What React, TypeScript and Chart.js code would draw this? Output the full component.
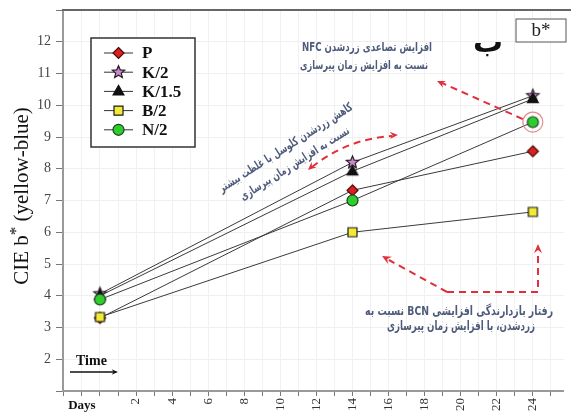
import React, { useEffect, useRef } from "react";
import { Chart, registerables } from "chart.js";

Chart.register(...registerables);

// ---- data ----
const seriesNames = ["P", "K/2", "K/1.5", "B/2", "N/2"];
const days = [0, 14, 24];
const pValues = [3.3, 7.32, 8.55];
const k2Values = [4.06, 8.2, 10.3];
const k15Values = [4.0, 7.92, 10.2];
const b2Values = [3.33, 6.0, 6.64];
const n2Values = [3.88, 7.0, 9.47];
const yTickValues = [2, 3, 4, 5, 6, 7, 8, 9, 10, 11, 12];
const xTickLabels = [2, 4, 6, 8, 10, 12, 14, 16, 18, 20, 22, 24];

const yTitleMain = "CIE b";
const yTitleSup = "*";
const yTitleRest = " (yellow-blue)";
const panelLetter = "ب";
const panelTag = "b*";
const noteTop = ["افزایش تصاعدی زردشدن NFC", "نسبت به افزایش زمان پیرسازی"];
const noteMid = ["کاهش زردشدن کلوسل با غلظت بیشتر", "نسبت به افزایش زمان پیرسازی"];
const noteBottom = ["رفتار بازدارندگی افزایشی BCN نسبت به", "زردشدن، با افزایش زمان پیرسازی"];

type MarkerStyle = { kind: string; fill: string; stroke: string; r: number };
const markerStyles: MarkerStyle[] = [
  { kind: "diamond", fill: "#dc1f1f", stroke: "#4a0a0a", r: 5.5 },
  { kind: "star", fill: "#c98ac9", stroke: "#2a1a2a", r: 6.5 },
  { kind: "triangle", fill: "#111111", stroke: "#111111", r: 6 },
  { kind: "square", fill: "#f2ea36", stroke: "#1a1a1a", r: 4.5 },
  { kind: "circle", fill: "#2fcc2f", stroke: "#1a401a", r: 5.5 },
];
const seriesValues = [pValues, k2Values, k15Values, b2Values, n2Values];
const drawOrder = [4, 2, 3, 0, 1];

function drawMarker(ctx: CanvasRenderingContext2D, m: MarkerStyle, x: number, y: number) {
  ctx.save();
  ctx.fillStyle = m.fill;
  ctx.strokeStyle = m.stroke;
  ctx.lineWidth = 1.2;
  ctx.beginPath();
  if (m.kind === "diamond") {
    ctx.moveTo(x, y - m.r);
    ctx.lineTo(x + m.r, y);
    ctx.lineTo(x, y + m.r);
    ctx.lineTo(x - m.r, y);
    ctx.closePath();
  } else if (m.kind === "star") {
    for (let i = 0; i < 10; i++) {
      const a = -Math.PI / 2 + (i * Math.PI) / 5;
      const rr = i % 2 === 0 ? m.r : m.r * 0.45;
      const px = x + rr * Math.cos(a);
      const py = y + rr * Math.sin(a);
      if (i === 0) ctx.moveTo(px, py);
      else ctx.lineTo(px, py);
    }
    ctx.closePath();
  } else if (m.kind === "triangle") {
    ctx.moveTo(x, y - m.r);
    ctx.lineTo(x + m.r * 0.9, y + m.r * 0.6);
    ctx.lineTo(x - m.r * 0.9, y + m.r * 0.6);
    ctx.closePath();
  } else if (m.kind === "square") {
    ctx.rect(x - m.r, y - m.r, m.r * 2, m.r * 2);
  } else {
    ctx.arc(x, y, m.r, 0, Math.PI * 2);
  }
  ctx.fill();
  ctx.stroke();
  ctx.restore();
}

function makeMarkerImage(m: MarkerStyle): HTMLCanvasElement {
  const size = Math.ceil(m.r * 2 + 4);
  const c = document.createElement("canvas");
  c.width = size;
  c.height = size;
  const cx = c.getContext("2d")!;
  drawMarker(cx, m, size / 2, size / 2);
  return c;
}

function arrowHead(ctx: CanvasRenderingContext2D, fx: number, fy: number, tx: number, ty: number, size = 8) {
  const a = Math.atan2(ty - fy, tx - fx);
  ctx.save();
  ctx.setLineDash([]);
  ctx.beginPath();
  ctx.moveTo(tx, ty);
  ctx.lineTo(tx - size * Math.cos(a - 0.42), ty - size * Math.sin(a - 0.42));
  ctx.lineTo(tx - size * 0.6 * Math.cos(a), ty - size * 0.6 * Math.sin(a));
  ctx.lineTo(tx - size * Math.cos(a + 0.42), ty - size * Math.sin(a + 0.42));
  ctx.closePath();
  ctx.fill();
  ctx.restore();
}

function fitText(ctx: CanvasRenderingContext2D, text: string, cx: number, cy: number, width: number, angle = 0) {
  const w = ctx.measureText(text).width;
  ctx.save();
  ctx.translate(cx, cy);
  if (angle) ctx.rotate(angle);
  ctx.scale(width / w, 1);
  ctx.fillText(text, 0, 0);
  ctx.restore();
}

const overlayPlugin = {
  id: "overlay",
  afterDraw(chart: any) {
    const ctx: CanvasRenderingContext2D = chart.ctx;
    const { left, top } = chart.chartArea;
    const xs = chart.scales.x;
    const ys = chart.scales.y;
    ctx.save();

    // top frame line
    ctx.strokeStyle = "#666";
    ctx.lineWidth = 2;
    ctx.beginPath();
    ctx.moveTo(left - 1, top);
    ctx.lineTo(chart.width, top);
    ctx.stroke();

    // y axis title
    ctx.save();
    ctx.translate(22, 196);
    ctx.rotate(-Math.PI / 2);
    ctx.fillStyle = "#111";
    ctx.textBaseline = "middle";
    const big = "21px 'Liberation Serif', 'Times New Roman', serif";
    const small = "17px 'Liberation Serif', 'Times New Roman', serif";
    ctx.font = big;
    const w1 = ctx.measureText(yTitleMain).width;
    const w3 = ctx.measureText(yTitleRest).width;
    ctx.font = small;
    const w2 = ctx.measureText(yTitleSup).width;
    let x0 = -(w1 + w2 + w3) / 2;
    ctx.textAlign = "left";
    ctx.font = big;
    ctx.fillText(yTitleMain, x0, 0);
    x0 += w1;
    ctx.font = small;
    ctx.fillText(yTitleSup, x0, -5);
    x0 += w2;
    ctx.font = big;
    ctx.fillText(yTitleRest, x0, 0);
    ctx.restore();

    // "Days" label
    ctx.fillStyle = "#111";
    ctx.font = "bold 13px 'Liberation Serif', serif";
    ctx.textAlign = "center";
    ctx.textBaseline = "middle";
    ctx.fillText("Days", xs.getPixelForValue(-1), 406);

    // Time arrow
    ctx.font = "bold 14px 'Liberation Serif', serif";
    ctx.textAlign = "left";
    ctx.fillText("Time", 76, 361);
    ctx.strokeStyle = "#111";
    ctx.fillStyle = "#111";
    ctx.lineWidth = 1.6;
    ctx.beginPath();
    ctx.moveTo(70, 372);
    ctx.lineTo(114, 372);
    ctx.stroke();
    arrowHead(ctx, 70, 372, 118, 372, 7);

    // legend
    ctx.fillStyle = "#fff";
    ctx.fillRect(91, 38, 104, 109);
    ctx.strokeStyle = "#333";
    ctx.lineWidth = 1.5;
    ctx.strokeRect(91, 38, 104, 109);
    seriesNames.forEach((name, i) => {
      const y = 53 + i * 19.2;
      ctx.strokeStyle = "#333";
      ctx.lineWidth = 1;
      ctx.beginPath();
      ctx.moveTo(104, y);
      ctx.lineTo(133, y);
      ctx.stroke();
      drawMarker(ctx, markerStyles[i], 118.5, y);
      ctx.fillStyle = "#111";
      ctx.font = "bold 17px 'Liberation Serif', serif";
      ctx.textAlign = "left";
      ctx.textBaseline = "middle";
      ctx.fillText(name, 142, y + 1);
    });

    // panel letter and tag
    ctx.fillStyle = "#111";
    ctx.font = "bold 30px 'DejaVu Sans', sans-serif";
    ctx.textAlign = "center";
    ctx.textBaseline = "alphabetic";
    ctx.fillText(panelLetter, 488, 52);
    ctx.fillStyle = "#fff";
    ctx.fillRect(516, 19, 50, 23);
    ctx.strokeStyle = "#555";
    ctx.lineWidth = 1;
    ctx.strokeRect(516, 19, 50, 23);
    ctx.fillStyle = "#222";
    ctx.textBaseline = "middle";
    ctx.font = "19px 'Liberation Serif', serif";
    ctx.fillText(panelTag, 541, 31);

    // red ring round N/2 at last day
    const rx = xs.getPixelForValue(days[2]);
    const ry = ys.getPixelForValue(n2Values[2]);
    ctx.strokeStyle = "#e68a8a";
    ctx.lineWidth = 1.2;
    ctx.beginPath();
    ctx.arc(rx, ry, 10, 0, Math.PI * 2);
    ctx.stroke();

    // red dashed arrows
    const red = "#e1303c";
    ctx.strokeStyle = red;
    ctx.fillStyle = red;
    ctx.lineWidth = 2;
    ctx.setLineDash([7, 5]);
    ctx.beginPath();
    ctx.moveTo(rx - 10, ry - 3);
    ctx.lineTo(442, 83);
    ctx.stroke();
    arrowHead(ctx, rx - 10, ry - 3, 437, 81, 9);
    ctx.beginPath();
    ctx.moveTo(312, 167);
    ctx.quadraticCurveTo(347, 139, 392, 136);
    ctx.stroke();
    arrowHead(ctx, 330, 150, 308, 170, 9);
    arrowHead(ctx, 370, 136, 398, 135, 9);
    ctx.beginPath();
    ctx.moveTo(447, 292);
    ctx.lineTo(538, 292);
    ctx.lineTo(538, 252);
    ctx.stroke();
    arrowHead(ctx, 538, 270, 538, 244, 10);
    ctx.beginPath();
    ctx.moveTo(447, 292);
    ctx.lineTo(389, 260);
    ctx.stroke();
    arrowHead(ctx, 447, 292, 382, 256, 10);
    ctx.setLineDash([]);

    // Persian notes
    ctx.fillStyle = "#4e5c7b";
    ctx.direction = "rtl";
    ctx.textAlign = "center";
    ctx.textBaseline = "middle";
    ctx.font = "bold 12px 'DejaVu Sans', sans-serif";
    fitText(ctx, noteTop[0], 367, 48, 130);
    fitText(ctx, noteTop[1], 364, 66, 128);
    fitText(ctx, noteMid[0], 286, 148, 156, -0.565);
    fitText(ctx, noteMid[1], 295, 164, 127, -0.565);
    ctx.font = "bold 13px 'DejaVu Sans', sans-serif";
    fitText(ctx, noteBottom[0], 459, 312, 188);
    fitText(ctx, noteBottom[1], 461, 327, 148);
    ctx.restore();
  },
};

export default function App() {
  const ref = useRef<HTMLCanvasElement | null>(null);
  useEffect(() => {
    if (!ref.current) return;
    const images = markerStyles.map(makeMarkerImage);
    const datasets = drawOrder.map((i, k) => ({
      label: seriesNames[i],
      data: days.map((d, j) => ({ x: d, y: seriesValues[i][j] })),
      borderColor: "#3a3a3a",
      borderWidth: 1,
      pointStyle: images[i] as any,
      pointRadius: markerStyles[i].r,
      showLine: true,
      tension: 0,
      order: k,
    }));
    const chart = new Chart(ref.current, {
      type: "line",
      data: { datasets: datasets as any },
      options: {
        animation: false,
        responsive: false,
        layout: { padding: { left: 0, top: 10, right: 0, bottom: 0 } },
        plugins: { legend: { display: false }, tooltip: { enabled: false } },
        scales: {
          x: {
            type: "linear",
            min: -2.05,
            max: 25.7,
            afterBuildTicks: (s: any) => {
              const t = [];
              for (let v = -2; v <= 25; v++) t.push({ value: v });
              s.ticks = t;
            },
            afterFit: (s: any) => {
              s.height = 24;
              s.paddingLeft = 0;
              s.paddingRight = 0;
            },
            ticks: {
              autoSkip: false,
              minRotation: 90,
              maxRotation: 90,
              padding: 2,
              color: "#333",
              font: { family: "'Liberation Serif', serif", size: 13 },
              callback: (v: any) => (xTickLabels.includes(Number(v)) ? String(v) : ""),
            },
            grid: { color: "#f1f1f1", tickColor: "#777", tickLength: 5, lineWidth: 1 },
            border: { color: "#999", width: 2 },
          },
          y: {
            min: 1,
            max: 13,
            afterBuildTicks: (s: any) => {
              const t = [];
              for (let v = 1; v <= 13; v++) t.push({ value: v });
              s.ticks = t;
            },
            afterFit: (s: any) => {
              s.width = 63;
              s.paddingTop = 0;
              s.paddingBottom = 0;
            },
            ticks: {
              padding: 5,
              color: "#444",
              font: { family: "'Liberation Serif', serif", size: 14 },
              callback: (v: any) => (yTickValues.includes(Number(v)) ? String(v) : ""),
            },
            grid: { color: "#efefef", tickColor: "#777", tickLength: 7, lineWidth: 1 },
            border: { color: "#999", width: 2 },
          },
        },
      },
      plugins: [overlayPlugin],
    });
    return () => chart.destroy();
  }, []);
  return (
    <div style={{ position: "fixed", left: 0, top: 0, width: 571, height: 415, background: "#fff" }}>
      <canvas ref={ref} width={571} height={415} style={{ width: 571, height: 415, display: "block" }} />
    </div>
  );
}
